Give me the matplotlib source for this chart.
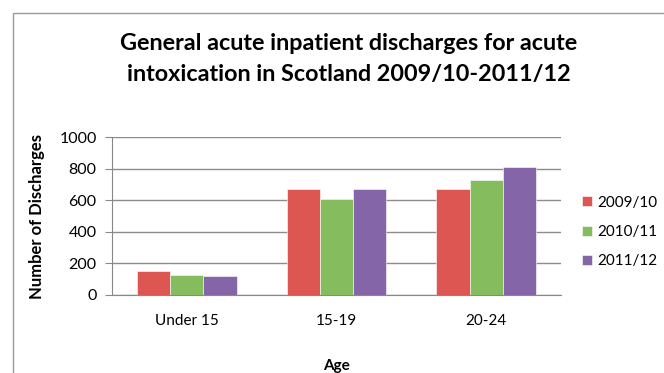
import numpy as np
import matplotlib.pyplot as plt
from matplotlib.patches import Rectangle

# data
categorias = ["Under 15", "15-19", "20-24"]
anos = ["2009/10", "2010/11", "2011/12"]
valores_2009 = [154, 670, 670]
valores_2010 = [127, 609, 729]
valores_2011 = [120, 670, 814]
cores = ["#DE5651", "#85BD5E", "#8466A8"]

plt.rcParams['font.family'] = ['Lato', 'DejaVu Sans']

fig = plt.figure(figsize=(6.64, 3.73), dpi=100)
W, H = 664, 373

# chart frame (cropped on right and bottom)
fig.patches.append(Rectangle((13 / W, -0.1), 1.2, 1 - 13 / H + 0.1,
                             transform=fig.transFigure, fill=False,
                             edgecolor="#9a9a9a", linewidth=1.0))

ax = fig.add_axes([112 / W, 1 - 295 / H, (561 - 112) / W, (295 - 137.3) / H])

x = np.arange(len(categorias))
largura = 0.222
series = [valores_2009, valores_2010, valores_2011]
for i, (vals, cor, ano) in enumerate(zip(series, cores, anos)):
    ax.bar(x + (i - 1) * largura, vals, width=largura, color=cor, label=ano,
           edgecolor="white", linewidth=0.4, zorder=3)

ax.set_xlim(-0.5, 2.5)
ax.set_ylim(0, 1000)
ax.set_yticks(range(0, 1001, 200))
ax.set_xticks(x)
ax.set_xticklabels(categorias, fontsize=11)
ax.tick_params(axis='y', labelsize=11.5, length=5, color="#888888", pad=6)
ax.tick_params(axis='x', length=0, pad=14)
ax.grid(axis='y', color="#8c8c8c", linewidth=1.0, zorder=0)

for s in ["top", "right"]:
    ax.spines[s].set_visible(False)
ax.spines["left"].set_color("#888888")
ax.spines["bottom"].set_color("#888888")

ax.set_ylabel("Number of Discharges", fontsize=12, fontweight="bold", labelpad=10)
ax.set_xlabel("Age", fontsize=11, fontweight="bold", labelpad=22)

fig.text(349 / W, 1 - 43 / H, "General acute inpatient discharges for acute",
         ha="center", va="center", fontsize=16.8, fontweight="bold")
fig.text(349 / W, 1 - 74 / H, "intoxication in Scotland 2009/10-2011/12",
         ha="center", va="center", fontsize=16.8, fontweight="bold")

ax.legend(loc="center left", bbox_to_anchor=(582 / W, 1 - 232 / H),
          bbox_transform=fig.transFigure, frameon=False,
          fontsize=11, handlelength=0.65, handleheight=0.65,
          labelspacing=1.0, handletextpad=0.35, borderaxespad=0, borderpad=0)

fig.savefig("out.png", dpi=100)
